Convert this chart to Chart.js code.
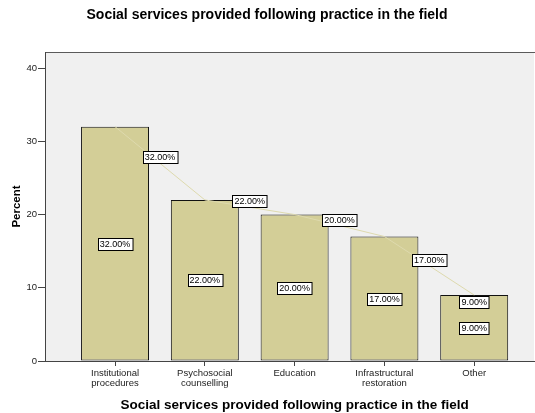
<!DOCTYPE html>
<html>
<head>
<meta charset="utf-8">
<script src="https://cdn.jsdelivr.net/npm/chart.js@4.4.1/dist/chart.umd.min.js"></script>
<style>
  html, body { margin: 0; padding: 0; background: #fff; }
  #wrap { width: 535px; height: 413px; }
</style>
</head>
<body>
<div id="wrap"><canvas id="chart" width="535" height="413"></canvas></div>
<script>
// ── data ──
const categories = [
  ['Institutional', 'procedures'],
  ['Psychosocial', 'counselling'],
  ['Education'],
  ['Infrastructural', 'restoration'],
  ['Other']
];
const percents = [32, 22, 20, 17, 9];
const yTicks = [0, 10, 20, 30, 40];

const chartTitle = 'Social services provided following practice in the field';
const xTitle = 'Social services provided following practice in the field';
const yTitle = 'Percent';

const FONT = '"Liberation Sans", Arial, sans-serif';
const BAR_FILL = '#d3ce97';
const fmt = v => v.toFixed(2) + '%';

// grey plot background + top border
const plotBg = {
  id: 'plotBg',
  beforeDraw(chart) {
    const { ctx, chartArea: a } = chart;
    ctx.save();
    ctx.fillStyle = '#f0f0f0';
    ctx.fillRect(a.left, a.top, a.right - a.left, a.bottom - a.top);
    ctx.strokeStyle = '#5a5a5a';
    ctx.lineWidth = 1;
    ctx.beginPath();
    ctx.moveTo(a.left, a.top + 0.5);
    ctx.lineTo(chart.width, a.top + 0.5);
    ctx.stroke();
    ctx.restore();
  }
};

function tag(ctx, text, cx, cy) {
  const w = ctx.measureText(text).width + 4, h = 12;
  const x = Math.round(cx - w / 2) + 0.5, y = Math.round(cy - h / 2) + 0.5;
  ctx.fillStyle = '#fff';
  ctx.fillRect(x, y, w, h);
  ctx.strokeStyle = '#000';
  ctx.lineWidth = 1;
  ctx.strokeRect(x, y, w, h);
  ctx.fillStyle = '#000';
  ctx.fillText(text, cx, cy + 0.5);
}

// value boxes: inside bars and along the line
const valueTags = {
  id: 'valueTags',
  afterDatasetsDraw(chart) {
    const { ctx } = chart;
    const xs = chart.scales.x, ys = chart.scales.y;
    ctx.save();
    ctx.font = '9px ' + FONT;
    ctx.textAlign = 'center';
    ctx.textBaseline = 'middle';
    percents.forEach((v, i) => {
      tag(ctx, fmt(v), xs.getPixelForValue(i), ys.getPixelForValue(v / 2));
      let lx, ly;
      if (i < percents.length - 1) {
        lx = (xs.getPixelForValue(i) + xs.getPixelForValue(i + 1)) / 2;
        ly = (ys.getPixelForValue(v) + ys.getPixelForValue(percents[i + 1])) / 2 - 6;
      } else {
        lx = xs.getPixelForValue(i);
        ly = ys.getPixelForValue(v) + 6.5;
      }
      tag(ctx, fmt(v), lx, ly);
    });
    ctx.restore();
  }
};

// x axis title centred under the categories
const xAxisTitle = {
  id: 'xAxisTitle',
  afterDraw(chart) {
    const { ctx } = chart;
    const xs = chart.scales.x;
    const cx = (xs.getPixelForValue(0) + xs.getPixelForValue(categories.length - 1)) / 2;
    ctx.save();
    ctx.font = 'bold 13.5px ' + FONT;
    ctx.fillStyle = '#000';
    ctx.textAlign = 'center';
    ctx.textBaseline = 'middle';
    ctx.fillText(xTitle, cx, 405);
    ctx.restore();
  }
};

new Chart(document.getElementById('chart'), {
  type: 'bar',
  data: {
    datasets: [{
      type: 'line',
      data: percents.map((v, i) => ({ x: i, y: v })),
      borderColor: '#dedaae',
      borderWidth: 1,
      pointRadius: 0,
      tension: 0,
      fill: false,
      order: 1
    }, {
      type: 'bar',
      data: percents.map((v, i) => ({ x: i, y: v })),
      backgroundColor: BAR_FILL,
      borderColor: '#111',
      borderWidth: 1,
      borderSkipped: false,
      categoryPercentage: 1,
      barPercentage: 0.757,
      order: 2
    }]
  },
  options: {
    responsive: false,
    animation: false,
    layout: { padding: { left: 0, right: 1, top: 0, bottom: 0 } },
    plugins: {
      legend: { display: false },
      tooltip: { enabled: false },
      title: {
        display: true,
        text: chartTitle,
        color: '#000',
        font: { family: FONT, size: 14, weight: 'bold' },
        padding: { top: 6.6, bottom: 28.6 }
      }
    },
    scales: {
      x: {
        type: 'linear',
        min: -0.78,
        max: 4.666,
        offset: false,
        afterBuildTicks: s => { s.ticks = categories.map((_, i) => ({ value: i })); },
        afterFit: s => { s.height = 52; },
        grid: { offset: false, drawOnChartArea: false, drawTicks: true, tickLength: 5, color: '#444' },
        border: { display: true, color: '#444', width: 1 },
        ticks: {
          autoSkip: false,
          maxRotation: 0,
          padding: 3,
          color: '#222',
          font: { family: FONT, size: 9.5, lineHeight: 1 },
          callback: v => categories[v]
        }
      },
      y: {
        min: 0,
        max: 42.2,
        afterBuildTicks: s => { s.ticks = yTicks.map(v => ({ value: v })); },
        afterFit: s => { s.width = 45; },
        grid: { drawOnChartArea: false, drawTicks: true, tickLength: 7, color: '#444' },
        border: { display: true, color: '#444', width: 1 },
        ticks: {
          padding: 1,
          color: '#222',
          font: { family: FONT, size: 9.5 }
        },
        title: {
          display: true,
          text: yTitle,
          color: '#000',
          font: { family: FONT, size: 11.5, weight: 'bold' },
          padding: { top: 9.8, bottom: 0 }
        }
      }
    }
  },
  plugins: [plotBg, valueTags, xAxisTitle]
});
</script>
</body>
</html>
